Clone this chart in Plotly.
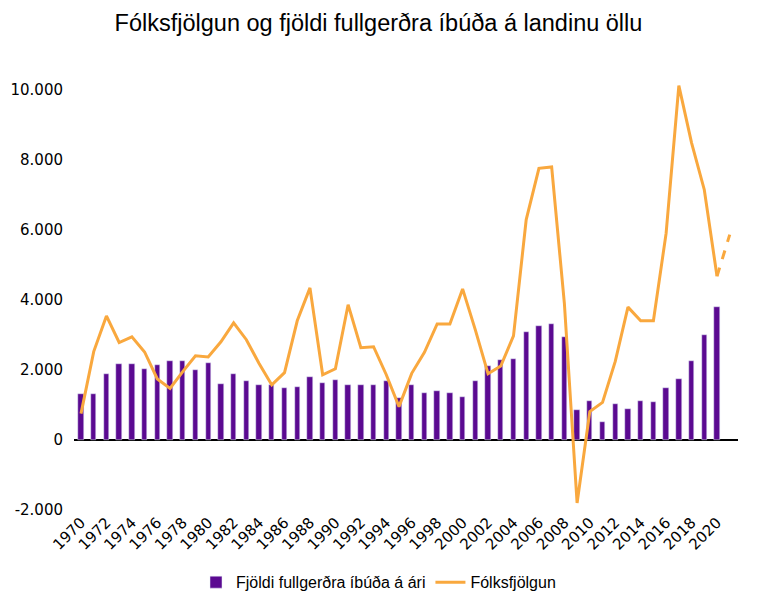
import plotly.graph_objects as go

years = list(range(1970, 2021))
ibudir = [1300, 1300, 1890, 2170, 2170, 2030, 2140, 2260, 2260, 2000,
          2200, 1600, 1890, 1690, 1570, 1570, 1490, 1510, 1800, 1630,
          1710, 1570, 1570, 1570, 1690, 1200, 1570, 1340, 1400, 1340,
          1230, 1690, 2110, 2290, 2310, 3090, 3260, 3310, 2940, 860,
          1110, 510, 1030, 890, 1110, 1090, 1490, 1740, 2260, 3000,
          3800]

pop_years = list(range(1970, 2021))
folksfjolgun = [750, 2520, 3540, 2780, 2940, 2510, 1740, 1470, 1950, 2400,
                2370, 2800, 3340, 2860, 2180, 1570, 1920, 3400, 4340, 1860,
                2030, 3860, 2630, 2660, 1860, 950, 1900, 2500, 3310, 3310,
                4310, 3140, 1890, 2110, 2970, 6290, 7750, 7790, 3900, -1800,
                810, 1070, 2240, 3790, 3400, 3400, 5900, 10110, 8480, 7140,
                4670]
spa_years = [2020, 2021]
spa_values = [4670, 5860]

tick_years = list(range(1970, 2021, 2))
tick_text = [str(y) for y in tick_years]
ytick_vals = [-2000, 0, 2000, 4000, 6000, 8000, 10000]
ytick_text = ["-2.000", "0", "2.000", "4.000", "6.000", "8.000", "10.000"]

purple = "#5B0A91"
orange = "#F9A83E"

fig = go.Figure()
fig.add_trace(go.Bar(x=years, y=ibudir, width=0.42, marker_color=purple,
                     name="Fjöldi fullgerðra íbúða á ári"))
fig.add_trace(go.Scatter(x=pop_years, y=folksfjolgun, mode="lines",
                         line=dict(color=orange, width=3), name="Fólksfjölgun"))
fig.add_trace(go.Scatter(x=spa_years, y=spa_values, mode="lines",
                         line=dict(color=orange, width=3, dash="dash"),
                         showlegend=False))

fig.update_layout(
    width=757, height=604,
    margin=dict(l=74, r=19, t=72, b=94, autoexpand=False),
    plot_bgcolor="white", paper_bgcolor="white",
    title=dict(text="Fólksfjölgun og fjöldi fullgerðra íbúða á landinu öllu",
               x=0.5, xanchor="center", y=0.962, yanchor="middle",
               font=dict(family="Liberation Sans", size=23.5, color="black")),
    showlegend=True,
    legend=dict(orientation="h", xref="container", yref="container",
                x=0.5, xanchor="center", y=0.036, yanchor="middle",
                font=dict(family="Liberation Sans", size=16, color="black"),
                traceorder="normal", itemwidth=30),
    font=dict(family="DejaVu Sans", color="black"),
    bargap=0,
)
fig.update_xaxes(range=[1969.45, 2021.65], tickvals=tick_years, ticktext=tick_text,
                 tickangle=-45, showgrid=False, showline=False, zeroline=False,
                 ticks="", automargin=False,
                 tickfont=dict(family="DejaVu Sans", size=15, color="black"))
fig.update_yaxes(range=[-2000, 10500], tickvals=ytick_vals, ticktext=ytick_text,
                 showgrid=False, showline=False, zeroline=True, zerolinecolor="black",
                 zerolinewidth=2, ticks="", ticklabelstandoff=10, automargin=False,
                 tickfont=dict(family="DejaVu Sans", size=15, color="black"))

fig.write_html("out.html")
